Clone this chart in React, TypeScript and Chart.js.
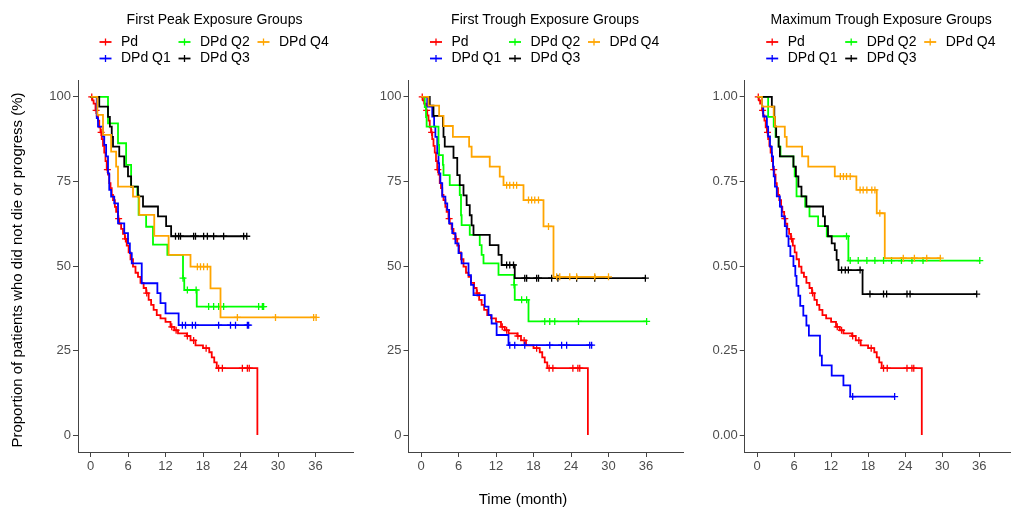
import React, { useEffect, useRef } from 'react';
import { Chart, registerables } from 'chart.js';

Chart.register(...registerables);

const FONT = '"Liberation Sans", Arial, Helvetica, sans-serif';

const GROUP_NAMES = ['Pd', 'DPd Q1', 'DPd Q2', 'DPd Q3', 'DPd Q4'];
const GROUP_COLORS = ['#FF0000', '#0000FF', '#00FF00', '#000000', '#FFA500'];
const PANEL_TITLES = ['First Peak Exposure Groups', 'First Trough Exposure Groups', 'Maximum Trough Exposure Groups'];
const X_TICKS = [0, 6, 12, 18, 24, 30, 36];
const Y_TICKS_PCT = [0, 25, 50, 75, 100];
const Y_LABELS_PCT = ['0', '25', '50', '75', '100'];
const Y_TICKS_PROP = [0, 0.25, 0.5, 0.75, 1];
const Y_LABELS_PROP = ['0.00', '0.25', '0.50', '0.75', '1.00'];
const Y_TITLE = 'Proportion of patients who did not die or progress (%)';
const X_TITLE = 'Time (month)';

// Pd (reference group, identical in all panels), survival in %
const PD_T = [0, 0.3, 0.5, 0.8, 1.0, 1.2, 1.4, 1.6, 1.8, 2.0, 2.2, 2.4, 2.6, 2.8, 3.0, 3.2, 3.4, 3.6, 3.9, 4.1, 4.4, 4.6, 4.9, 5.2, 5.5, 5.8, 6.1, 6.4, 6.8, 7.2, 7.6, 8.0, 8.5, 8.9, 9.3, 9.7, 10.1, 10.6, 11.2, 12.0, 12.8, 13.4, 14.0, 15.4, 16.0, 16.8, 18.0, 19.0, 19.4, 19.8, 20.2, 26.7];
const PD_S = [100, 99, 98, 96, 94.5, 93, 91, 89.5, 87.5, 85.5, 83.5, 81, 78.5, 77, 74.5, 73, 71, 69.5, 67.5, 66, 64, 62.5, 61, 59.5, 58, 56, 54, 52, 49.8, 48, 46.8, 45, 43.5, 42, 40, 38.5, 37, 35.5, 34.5, 33.5, 32, 31, 30.1, 29.3, 28, 26.5, 25.7, 24.5, 23, 21.5, 19.8, 0];
const PD_C = [0.2, 0.9, 1.7, 2.7, 4.5, 5.6, 9.0, 13.0, 13.7, 15.5, 16.5, 18.5, 20.5, 21.1, 24.3, 25.1, 25.4];

// Panel 1: First Peak
const P1_Q1_T = [0, 1.0, 1.2, 2.0, 2.2, 2.5, 2.8, 3.0, 3.3, 3.8, 4.4, 5.4, 6.0, 6.3, 6.6, 8.2, 10.7, 11.2, 12.0, 14.1];
const P1_Q1_S = [100, 93.7, 91.2, 88.3, 85.8, 82.4, 77.4, 72.5, 70.5, 68.5, 62.6, 59.7, 56.7, 53.8, 50.8, 44.9, 42.0, 39.0, 36.0, 32.5];
const P1_Q1_C = [14.7, 15.2, 16.3, 16.8, 20.5, 22.4, 23.2, 25.1, 25.3];
const P1_Q2_T = [0, 2.8, 4.4, 5.7, 6.5, 7.5, 7.7, 8.9, 10.0, 12.3, 14.8, 15.0, 17.0];
const P1_Q2_S = [100, 92.2, 86.3, 79.9, 73.5, 71.0, 65.1, 61.6, 56.3, 53.3, 46.4, 42.9, 38.0];
const P1_Q2_C = [14.8, 15.5, 16.9, 18.9, 19.7, 20.5, 21.3, 26.9, 27.5, 27.7];
const P1_Q3_T = [0, 1.4, 2.8, 3.1, 3.4, 3.6, 4.6, 5.4, 6.0, 6.5, 7.6, 8.4, 10.8, 12.1, 12.9];
const P1_Q3_S = [100, 97.1, 94.1, 91.2, 88.2, 85.3, 82.4, 79.4, 76.5, 73.5, 70.6, 67.6, 64.7, 61.8, 58.8];
const P1_Q3_C = [13.6, 14.1, 14.4, 16.5, 16.8, 18.1, 18.7, 19.7, 21.3, 24.5, 25.0];
const P1_Q4_T = [0, 1.1, 2.0, 3.3, 4.1, 4.4, 6.8, 7.8, 10.2, 12.5, 16.0, 19.2, 20.8];
const P1_Q4_S = [100, 94.7, 88.8, 83.8, 79.4, 73.5, 70.5, 65.1, 58.9, 53.3, 49.8, 43.4, 34.8];
const P1_Q4_C = [17.1, 17.6, 18.1, 18.7, 23.5, 29.6, 35.7, 36.1];

// Panel 2: First Trough
const P2_Q1_T = [0, 1.0, 1.8, 2.1, 2.3, 2.6, 2.8, 2.9, 3.1, 3.4, 3.9, 4.2, 4.5, 5.0, 5.5, 6.0, 6.5, 7.6, 8.0, 8.4, 10.2, 10.8, 11.3, 12.1, 14.0];
const P2_Q1_S = [100, 97.1, 94.2, 91.2, 88.2, 83.3, 80.4, 77.4, 74.5, 70.5, 68.5, 66.6, 62.6, 59.7, 56.7, 53.8, 50.8, 47.3, 44.4, 41.4, 38.0, 35.5, 33.0, 29.6, 26.6];
const P2_Q1_C = [14.2, 15.0, 16.6, 20.6, 22.5, 23.3, 27.0, 27.3];
const P2_Q2_T = [0, 0.6, 0.8, 0.9, 2.8, 2.9, 3.5, 3.6, 4.6, 6.2, 6.4, 6.5, 7.8, 9.4, 9.7, 10.0, 12.4, 14.9, 15.0, 17.2];
const P2_Q2_S = [100, 97, 94, 91.2, 85.8, 82.8, 79.9, 76.9, 73.9, 71.0, 65.0, 62.1, 59.2, 56.2, 53.3, 50.8, 47.4, 44.4, 40.0, 33.6];
const P2_Q2_C = [14.9, 16.1, 16.9, 19.8, 20.6, 21.4, 25.2, 36.1];
const P2_Q3_T = [0, 1.4, 2.0, 3.5, 3.6, 3.8, 5.2, 5.8, 6.2, 6.8, 7.3, 7.8, 8.1, 8.4, 11.0, 12.4, 12.9, 15.0];
const P2_Q3_S = [100, 97.4, 94.4, 91.4, 88.2, 85.3, 82.0, 76.9, 73.9, 70.9, 68.0, 65.0, 62.0, 59.2, 56.2, 53.3, 50.3, 46.4];
const P2_Q3_C = [13.7, 14.2, 14.8, 16.6, 16.9, 18.5, 18.8, 20.9, 21.9, 24.9, 27.8, 35.9];
const P2_Q4_T = [0, 1.2, 2.9, 3.6, 5.1, 7.7, 8.1, 11.0, 12.6, 13.2, 16.4, 19.6, 21.2];
const P2_Q4_S = [100, 97.4, 94.4, 91.4, 88.2, 85.3, 82.3, 79.4, 76.4, 73.9, 69.5, 61.7, 46.8];
const P2_Q4_C = [13.7, 14.2, 14.8, 15.3, 17.2, 17.7, 18.2, 18.8, 20.4, 21.7, 22.2, 23.8, 24.9, 27.8, 30.0];

// Panel 3: Maximum Trough (read in %, plotted as proportion)
const P3_Q1_T = [0, 0.8, 1.0, 1.6, 1.8, 2.1, 2.4, 2.6, 2.7, 2.9, 3.2, 3.7, 4.0, 4.5, 4.8, 5.1, 5.4, 5.9, 6.2, 6.4, 6.7, 7.0, 7.5, 8.0, 8.4, 10.2, 10.5, 12.1, 14.0, 15.1];
const P3_Q1_S = [100, 97.1, 94.2, 91.2, 88.3, 85.3, 82.4, 79.4, 76.5, 73.5, 70.6, 67.6, 64.7, 61.8, 58.8, 55.9, 52.9, 50.0, 47.1, 44.1, 41.2, 38.2, 35.3, 32.4, 29.4, 23.5, 20.6, 17.6, 14.7, 11.4];
const P3_Q1_C = [15.5, 22.3];
const P3_Q2_T = [0, 1.8, 2.7, 3.0, 3.5, 3.8, 5.9, 6.1, 6.4, 7.8, 8.5, 9.9, 11.3, 14.8];
const P3_Q2_S = [100, 94.1, 91.2, 88.2, 85.3, 82.4, 79.4, 76.5, 70.6, 67.6, 64.7, 61.8, 58.8, 51.6];
const P3_Q2_C = [14.5, 15.1, 16.4, 17.8, 19.1, 20.5, 21.8, 23.4, 25.1, 26.9, 36.1];
const P3_Q3_T = [0, 2.4, 2.8, 2.9, 3.1, 3.5, 3.7, 5.9, 6.3, 6.7, 7.2, 8.0, 10.7, 11.0, 11.5, 12.1, 12.6, 12.9, 13.2, 17.1];
const P3_Q3_S = [100, 97.1, 94.1, 91.2, 88.2, 85.3, 82.4, 79.4, 76.5, 73.5, 70.6, 67.6, 64.7, 61.8, 58.8, 56.7, 54.7, 51.8, 48.8, 41.7];
const P3_Q3_C = [13.7, 14.3, 14.8, 16.7, 18.3, 20.5, 21.0, 24.3, 24.8, 35.6];
const P3_Q4_T = [0, 0.8, 2.7, 2.9, 4.5, 4.8, 7.3, 8.3, 12.6, 16.1, 19.4, 20.7];
const P3_Q4_S = [100, 97.1, 94.1, 91.2, 88.2, 85.3, 82.4, 79.4, 76.5, 72.5, 65.6, 52.3];
const P3_Q4_C = [13.5, 14.0, 14.5, 15.1, 16.7, 17.2, 17.8, 18.6, 19.1, 19.9, 23.7, 25.5, 27.5, 29.7];

type Group = { t: number[]; s: number[]; c: number[] };

const PANEL_GROUPS: Group[][] = [
  [
    { t: PD_T, s: PD_S, c: PD_C },
    { t: P1_Q1_T, s: P1_Q1_S, c: P1_Q1_C },
    { t: P1_Q2_T, s: P1_Q2_S, c: P1_Q2_C },
    { t: P1_Q3_T, s: P1_Q3_S, c: P1_Q3_C },
    { t: P1_Q4_T, s: P1_Q4_S, c: P1_Q4_C },
  ],
  [
    { t: PD_T, s: PD_S, c: PD_C },
    { t: P2_Q1_T, s: P2_Q1_S, c: P2_Q1_C },
    { t: P2_Q2_T, s: P2_Q2_S, c: P2_Q2_C },
    { t: P2_Q3_T, s: P2_Q3_S, c: P2_Q3_C },
    { t: P2_Q4_T, s: P2_Q4_S, c: P2_Q4_C },
  ],
  [
    { t: PD_T, s: PD_S, c: PD_C },
    { t: P3_Q1_T, s: P3_Q1_S, c: P3_Q1_C },
    { t: P3_Q2_T, s: P3_Q2_S, c: P3_Q2_C },
    { t: P3_Q3_T, s: P3_Q3_S, c: P3_Q3_C },
    { t: P3_Q4_T, s: P3_Q4_S, c: P3_Q4_C },
  ],
];

// layout (page pixels)
const LAYOUT = [
  { canvasLeft: 0, canvasWidth: 370, chartLeft: 78, chartRight: 353, prop: false },
  { canvasLeft: 370, canvasWidth: 330, chartLeft: 408.5, chartRight: 683.5, prop: false },
  { canvasLeft: 700, canvasWidth: 330, chartLeft: 744.7, chartRight: 1016.2, prop: true },
];
const CANVAS_H = 511;
const CHART_TOP = 80;
const CHART_BOTTOM = 452;

function stepAt(t: number, T: number[], S: number[]) {
  let v = S[0];
  for (let i = 0; i < T.length; i++) if (T[i] <= t) v = S[i];
  return v;
}

function buildDatasets(groups: Group[], k: number) {
  const ds: any[] = [];
  groups.forEach((g, gi) => {
    const color = GROUP_COLORS[gi];
    const lastT = g.t[g.t.length - 1];
    const end = Math.max(lastT, ...g.c);
    const pts = g.t.map((t, i) => ({ x: t, y: g.s[i] * k }));
    if (end > lastT) pts.push({ x: end, y: g.s[g.s.length - 1] * k });
    ds.push({
      label: GROUP_NAMES[gi],
      data: pts,
      stepped: 'before',
      borderColor: color,
      backgroundColor: color,
      borderWidth: 1.8,
      pointRadius: 0,
      fill: false,
      order: 10 - gi * 2,
    });
    ds.push({
      label: GROUP_NAMES[gi] + ' (censored)',
      data: g.c.map((t) => ({ x: t, y: stepAt(t, g.t, g.s) * k })),
      showLine: false,
      pointStyle: 'cross',
      pointRadius: 3.5,
      pointBorderWidth: 1.3,
      borderColor: color,
      pointBorderColor: color,
      backgroundColor: color,
      order: 9 - gi * 2,
    });
  });
  return ds;
}

const LEGEND_POS = [
  [0, 0],
  [0, 1],
  [1, 0],
  [1, 1],
  [2, 0],
];

function overlayPlugin(pi: number) {
  return {
    id: 'overlay' + pi,
    afterDraw(chart: any) {
      const ctx = chart.ctx;
      const area = chart.chartArea;
      ctx.save();
      const cx = area.left + 136.5;
      ctx.fillStyle = '#000';
      ctx.textBaseline = 'middle';
      ctx.textAlign = 'center';
      ctx.font = '14px ' + FONT;
      ctx.fillText(PANEL_TITLES[pi], cx, 20);
      const startX = cx - 115;
      LEGEND_POS.forEach(([col, row], gi) => {
        const x = startX + col * 79;
        const y = 42 + row * 16.5;
        ctx.strokeStyle = GROUP_COLORS[gi];
        ctx.lineWidth = 1.8;
        ctx.beginPath();
        ctx.moveTo(x, y);
        ctx.lineTo(x + 12, y);
        ctx.stroke();
        ctx.lineWidth = 1.3;
        ctx.beginPath();
        ctx.moveTo(x + 6, y - 3.5);
        ctx.lineTo(x + 6, y + 3.5);
        ctx.stroke();
        ctx.fillStyle = '#000';
        ctx.textAlign = 'left';
        ctx.font = '14px ' + FONT;
        ctx.fillText(GROUP_NAMES[gi], x + 21.5, y);
      });
      ctx.font = '15px ' + FONT;
      ctx.fillStyle = '#000';
      ctx.textAlign = 'center';
      if (pi === 0) {
        ctx.save();
        ctx.translate(18, 270);
        ctx.rotate(-Math.PI / 2);
        ctx.fillText(Y_TITLE, 0, 0);
        ctx.restore();
      }
      if (pi === 1) {
        ctx.fillText(X_TITLE, 523 - LAYOUT[1].canvasLeft, 500);
      }
      ctx.restore();
    },
  };
}

function Panel({ pi }: { pi: number }) {
  const ref = useRef<HTMLCanvasElement>(null);
  useEffect(() => {
    const L = LAYOUT[pi];
    const k = L.prop ? 0.01 : 1;
    const yTicks = L.prop ? Y_TICKS_PROP : Y_TICKS_PCT;
    const yLabels = L.prop ? Y_LABELS_PROP : Y_LABELS_PCT;
    const yW = L.chartLeft - L.canvasLeft;
    const padR = L.canvasLeft + L.canvasWidth - L.chartRight;
    const chart = new Chart(ref.current as HTMLCanvasElement, {
      type: 'line',
      data: { datasets: buildDatasets(PANEL_GROUPS[pi], k) },
      options: {
        responsive: false,
        animation: false,
        devicePixelRatio: 1,
        events: [],
        layout: { padding: { top: CHART_TOP, right: padR, bottom: 0, left: 0 } },
        plugins: { legend: { display: false }, tooltip: { enabled: false }, title: { display: false } },
        scales: {
          x: {
            type: 'linear',
            min: -2,
            max: 42,
            afterBuildTicks: (s: any) => {
              s.ticks = X_TICKS.map((v) => ({ value: v }));
            },
            afterFit: (s: any) => {
              s.height = CANVAS_H - CHART_BOTTOM;
            },
            ticks: {
              autoSkip: false,
              maxRotation: 0,
              padding: 2,
              color: '#4D4D4D',
              font: { size: 13, family: FONT },
              callback: (v: any) => String(v),
            },
            grid: { drawOnChartArea: false, drawTicks: true, tickLength: 5, color: '#444', lineWidth: 1 },
            border: { display: true, color: '#444', width: 1 },
          },
          y: {
            type: 'linear',
            min: -0.05 * (L.prop ? 1 : 100),
            max: 1.05 * (L.prop ? 1 : 100),
            afterBuildTicks: (s: any) => {
              s.ticks = yTicks.map((v) => ({ value: v }));
            },
            afterFit: (s: any) => {
              s.width = yW;
            },
            ticks: {
              autoSkip: false,
              padding: 2,
              color: '#4D4D4D',
              font: { size: 13, family: FONT },
              callback: (_v: any, i: number) => yLabels[i],
            },
            grid: { drawOnChartArea: false, drawTicks: true, tickLength: 5, color: '#444', lineWidth: 1 },
            border: { display: true, color: '#444', width: 1 },
          },
        },
      } as any,
      plugins: [overlayPlugin(pi)],
    });
    return () => chart.destroy();
  }, [pi]);
  const L = LAYOUT[pi];
  return (
    <canvas
      ref={ref}
      width={L.canvasWidth}
      height={CANVAS_H}
      style={{ position: 'absolute', left: L.canvasLeft, top: 0, width: L.canvasWidth, height: CANVAS_H }}
    />
  );
}

export default function App() {
  return (
    <div
      style={{
        position: 'fixed',
        left: 0,
        top: 0,
        width: 1011,
        height: 511,
        overflow: 'hidden',
        background: '#fff',
      }}
    >
      <Panel pi={0} />
      <Panel pi={1} />
      <Panel pi={2} />
    </div>
  );
}
